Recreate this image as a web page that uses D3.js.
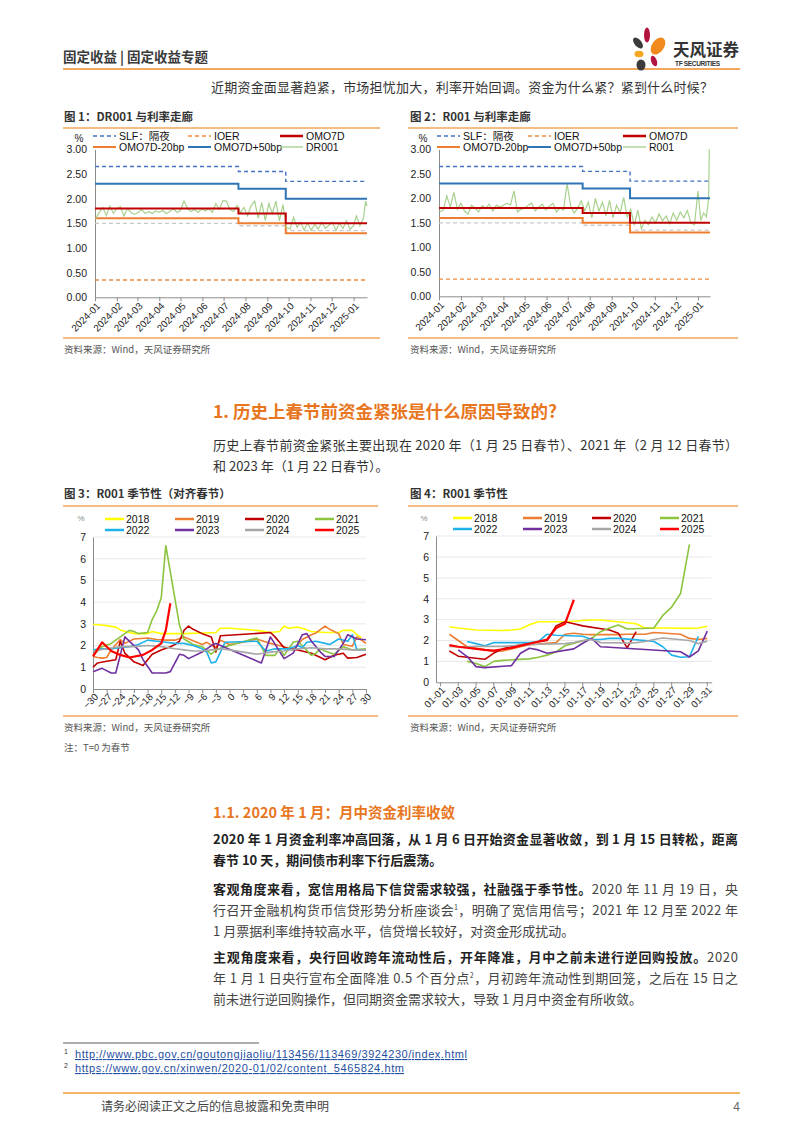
<!DOCTYPE html>
<html><head><meta charset="utf-8">
<script src="https://cdn.jsdelivr.net/npm/d3@7/dist/d3.min.js"></script>
<style>html,body{margin:0;padding:0;background:#fff;}svg{display:block;}</style>
</head><body>
<svg id="page" width="802" height="1133"></svg>
<script>
// ---------------- DATA ----------------
const monthTicks = ["2024-01","2024-02","2024-03","2024-04","2024-05","2024-06","2024-07","2024-08","2024-09","2024-10","2024-11","2024-12","2025-01"];
const corridorTicks = [0, 0.5, 1, 1.5, 2, 2.5, 3];
const corridorDates = ["2024-01-01","2024-07-22","2024-09-27"];
const slfValues = [2.65, 2.55, 2.35];
const ioerValues = [0.35, 0.35, 0.35];
const omo7dValues = [1.8, 1.7, 1.5];
const omoMinus20Values = [1.6, 1.5, 1.3];
const omoPlus50Values = [2.3, 2.2, 2.0];
const greyDashValues = [1.5, 1.45, 1.35];

const dates2024 = ("2024-01-02 2024-01-07 2024-01-12 2024-01-17 2024-01-22 2024-01-27 " +
 "2024-02-01 2024-02-06 2024-02-11 2024-02-16 2024-02-21 2024-02-26 " +
 "2024-03-02 2024-03-07 2024-03-12 2024-03-17 2024-03-22 2024-03-27 " +
 "2024-04-01 2024-04-06 2024-04-11 2024-04-16 2024-04-21 2024-04-26 " +
 "2024-05-01 2024-05-06 2024-05-11 2024-05-16 2024-05-21 2024-05-26 2024-05-31 " +
 "2024-06-05 2024-06-10 2024-06-15 2024-06-20 2024-06-25 2024-06-30 " +
 "2024-07-05 2024-07-10 2024-07-15 2024-07-20 2024-07-25 2024-07-30 " +
 "2024-08-04 2024-08-09 2024-08-14 2024-08-19 2024-08-24 2024-08-29 " +
 "2024-09-03 2024-09-08 2024-09-13 2024-09-18 2024-09-23 2024-09-28 " +
 "2024-10-03 2024-10-08 2024-10-13 2024-10-18 2024-10-23 2024-10-28 " +
 "2024-11-02 2024-11-07 2024-11-12 2024-11-17 2024-11-22 2024-11-27 " +
 "2024-12-02 2024-12-07 2024-12-12 2024-12-17 2024-12-22 2024-12-27").split(" ");
const dr001Dates = dates2024.concat(["2025-01-01","2025-01-05","2025-01-10","2025-01-15","2025-01-18","2025-01-20"]);
const dr001Values = [1.60,1.72,1.82,1.66,1.85,1.70, 1.80,1.84,1.65,1.80,1.72,1.68, 1.72,1.78,1.70,1.74,1.70,1.75,
 1.72,1.76,1.70,1.74,1.80,1.72, 1.76,1.95,1.80,1.74,1.78,1.72,1.80, 1.75,1.80,1.72,1.90,1.78,1.96,
 1.95,1.78,1.74,1.86,1.72,1.82, 1.65,1.86,1.95,1.60,1.92,1.56, 1.90,1.70,1.95,1.55,1.88,1.42,
 1.38,1.62,1.42,1.52,1.36,1.50, 1.36,1.48,1.38,1.52,1.40,1.46, 1.52,1.36,1.50,1.40,1.55,1.38,
 1.45,1.65,1.45,1.60,1.95,1.85];
const r001Dates = dates2024.concat(["2025-01-01","2025-01-05","2025-01-09","2025-01-13","2025-01-16","2025-01-17"]);
const r001Values = [1.72,1.76,2.05,1.82,2.12,1.78, 1.90,1.74,1.68,1.86,1.80,1.72, 1.85,1.80,1.88,1.74,1.86,1.82,
 1.86,1.90,1.86,2.15,1.72,1.78, 1.80,1.86,1.90,1.74,1.82,1.88,1.76, 1.84,1.90,1.72,1.80,1.76,2.30,
 1.85,1.70,1.80,1.95,1.74,1.92, 1.60,2.00,1.74,1.92,1.64,1.96, 1.60,1.86,1.70,2.02,1.62,1.78,
 1.45,1.76,1.38,1.55,1.46,1.62, 1.50,1.68,1.54,1.64,1.48,1.70, 1.55,1.72,1.60,1.75,1.50,1.46,
 2.15,1.55,1.70,1.62,2.00,3.00];

const yearNames = ["2018","2019","2020","2021","2022","2023","2024","2025"];
const yearColors = ["#FFFF00","#ED7D31","#C00000","#8CC43E","#1FB1EA","#7030A0","#A6A6A6","#FF0000"];
const seasonYTicks = [0,1,2,3,4,5,6,7];
const alignTicks = [-30,-27,-24,-21,-18,-15,-12,-9,-6,-3,0,3,6,9,12,15,18,21,24,27,30];
const janTickLabels = ["01-01","01-03","01-05","01-07","01-09","01-11","01-13","01-15","01-17","01-19","01-21","01-23","01-25","01-27","01-29","01-31"];
const janDays = d3.range(1, 32);

// Fig 3: aligned to Spring Festival (T=0)
const alignT2018 = [-30,-28,-27,-25,-24,-22,-21,-18,-17,-15,-13,-10,-6,-3,-2,0,3,6,9,11,12,13,15,16,18,21,24,25,27,28,29];
const alignV2018 = [2.97,2.95,2.92,2.85,2.72,2.6,2.55,2.55,2.65,2.55,2.55,2.55,2.58,2.6,2.8,2.8,2.75,2.7,2.6,2.65,2.9,2.8,2.85,2.8,2.65,2.6,2.6,2.7,2.7,2.5,2.35];
const alignT2019 = [-30,-29,-28,-27,-26,-24,-23,-21,-18,-16,-14,-12,-10,-8,-6,-5,-3,-2,0,3,6,9,12,14,16,18,19,21,22,24,25,27,28,30];
const alignV2019 = [1.5,1.45,1.42,1.45,1.8,2.28,2.1,2.3,2.35,2.28,2.25,2.25,2.4,2.22,2.05,2.15,1.9,2.25,2.05,2.15,2.3,2.1,1.95,1.8,2.28,2.5,2.58,2.9,2.75,2.55,2.05,1.97,2.4,2.1];
const alignT2020 = [-30,-29,-27,-25,-24,-23,-21,-19,-17,-15,-13,-12,-11,-10,-9,-8,-6,-4,-3,-2,9,10,12,15,18,20,21,23,25,26,28,30];
const alignV2020 = [1.0,1.2,1.28,1.35,2.2,1.65,1.25,1.08,1.6,1.8,1.95,2.05,2.2,2.7,2.9,2.75,2.55,2.4,1.7,2.45,2.6,2.4,1.9,1.8,1.65,1.45,1.35,1.55,1.65,1.42,1.45,1.6];
const alignT2021 = [-30,-28,-26,-24,-22,-21,-20,-18,-17,-16,-15,-14,-11,-10,-8,-6,-4,-3,-1,6,8,10,11,12,14,15,16,18,19,20,21,23,25,27,30];
const alignV2021 = [1.55,1.95,2.1,2.4,2.7,2.65,2.55,2.6,3.2,3.6,4.2,6.6,2.95,2.3,2.05,1.95,1.6,1.8,1.95,2.35,1.55,1.55,1.85,1.55,2.15,2.2,2.0,1.55,1.65,1.85,1.75,1.6,1.95,1.8,1.85];
const alignT2022 = [-30,-28,-26,-24,-22,-20,-18,-16,-14,-12,-10,-8,-6,-5,-4,-3,-1,6,8,10,13,15,16,17,19,21,22,24,26,27,28,30];
const alignV2022 = [1.8,1.85,1.85,1.9,1.95,2.05,2.25,2.2,2.15,2.1,2.1,2.0,1.85,1.7,1.2,1.25,2.15,2.2,1.75,1.85,1.85,2.0,1.9,2.15,2.2,2.1,2.05,2.3,2.2,2.5,1.8,1.8];
const alignT2023 = [-30,-28,-26,-25,-23,-20,-19,-17,-14,-13,-11,-10,-9,-6,-4,-3,7,9,12,14,16,17,18,20,21,23,25,26,28,30];
const alignV2023 = [0.8,0.95,0.74,0.74,2.4,1.8,1.35,0.74,0.74,0.8,1.6,1.55,1.4,1.7,2.0,2.1,1.2,2.4,1.4,1.65,2.5,2.55,2.2,1.7,1.5,1.5,2.1,2.5,2.3,2.27];
const alignT2024 = [-30,-27,-24,-21,-18,-15,-12,-10,-8,-6,-4,-2,0,6,9,12,15,18,21,24,27,30];
const alignV2024 = [1.75,1.85,1.95,1.95,2.0,1.95,1.85,1.8,1.75,1.75,1.8,1.85,1.8,1.6,1.7,1.75,1.85,1.9,1.85,1.85,1.8,1.8];
const alignT2025 = [-30,-28,-26,-24,-22,-19,-17,-15,-14,-13];
const alignV2025 = [1.5,2.15,1.75,1.57,1.45,1.57,1.8,2.1,2.7,3.95];

// Fig 4: January calendar days
const janD2018 = [2,3,4,5,8,9,10,11,12,15,16,17,18,19,22,23,24,25,26,29,30,31];
const janV2018 = [2.66,2.6,2.55,2.5,2.48,2.5,2.55,2.75,2.9,2.9,2.92,2.96,2.98,2.98,2.85,2.8,2.6,2.6,2.6,2.58,2.6,2.68];
const janD2019 = [2,3,4,7,8,9,10,11,14,15,16,17,18,21,22,23,24,25,28,29,30,31];
const janV2019 = [2.3,2.0,1.7,1.48,1.5,1.6,1.7,1.8,1.9,2.3,2.35,2.3,2.28,2.28,2.3,2.3,2.3,2.38,2.3,2.1,2.05,2.1];
const janD2020 = [2,3,6,7,8,9,10,13,14,15,16,17,20,21,22,23];
const janV2020 = [1.5,1.25,1.1,1.4,1.6,1.7,1.8,2.0,2.7,2.9,2.8,2.7,2.5,2.35,1.65,2.42];
const janD2021 = [4,5,6,7,8,11,12,13,14,15,18,19,20,21,22,25,26,27,28,29];
const janV2021 = [1.0,0.9,0.75,1.0,1.05,1.12,1.2,1.3,1.45,1.75,2.1,2.42,2.6,2.74,2.55,2.6,3.2,3.6,4.25,6.6];
const janD2022 = [4,5,6,7,10,11,12,13,14,17,18,19,20,21,24,25,26,27,28,29,30];
const janV2022 = [1.95,1.85,1.75,1.9,1.9,1.9,1.95,2.3,2.25,2.2,2.05,2.05,2.1,2.1,2.0,1.95,1.7,1.3,1.2,1.22,2.2];
const janD2023 = [3,4,5,6,9,10,11,12,13,16,17,18,19,20,28,29,30,31];
const janV2023 = [1.55,1.23,0.75,0.7,0.8,1.39,1.63,1.55,1.39,1.6,1.87,2.1,1.7,1.68,1.46,1.21,1.5,2.45];
const janD2024 = [2,3,4,5,8,9,10,11,12,15,16,17,18,19,22,23,24,25,26,29,30,31];
const janV2024 = [1.72,1.7,1.7,1.72,1.72,1.75,1.78,1.8,1.82,1.85,1.9,2.0,2.05,1.9,1.88,1.9,1.95,2.05,2.12,2.0,1.85,1.97];
const janD2025 = [2,3,6,7,8,9,10,13,14,15,16];
const janV2025 = [1.78,1.7,1.55,1.52,1.58,1.65,1.75,2.05,2.6,2.8,3.95];

const alignT = [alignT2018,alignT2019,alignT2020,alignT2021,alignT2022,alignT2023,alignT2024,alignT2025];
const alignV = [alignV2018,alignV2019,alignV2020,alignV2021,alignV2022,alignV2023,alignV2024,alignV2025];
const janD = [janD2018,janD2019,janD2020,janD2021,janD2022,janD2023,janD2024,janD2025];
const janV = [janV2018,janV2019,janV2020,janV2021,janV2022,janV2023,janV2024,janV2025];

// ---------------- DRAWING ----------------
const CJK = "'Noto Sans CJK SC','Noto Sans',sans-serif";
const LAT = "'Liberation Sans',Arial,'Noto Sans CJK SC',sans-serif";
const ORANGE = "#E8761E";
const RULE = "#F2A75C";
const AXIS = "#8C8C8C";
const parseDate = d3.timeParse("%Y-%m-%d");
const svg = d3.select("#page");
svg.append("rect").attr("width",802).attr("height",1133).attr("fill","#fff");

function txt(p, x, y, s, o) {
  o = o || {};
  const t = p.append("text").attr("x",x).attr("y",y).text(s)
    .attr("font-family", o.ff || CJK).attr("font-size", o.fs || 13).attr("fill", o.fill || "#333");
  if (o.fw) t.attr("font-weight", o.fw);
  if (o.anchor) t.attr("text-anchor", o.anchor);
  if (o.len) t.attr("textLength", o.len).attr("lengthAdjust","spacing");
  if (o.deco) t.attr("text-decoration", o.deco);
  return t;
}
function hline(p, x1, x2, y, c, w) {
  p.append("line").attr("x1",x1).attr("x2",x2).attr("y1",y).attr("y2",y).attr("stroke",c).attr("stroke-width",w);
}
function styleAxis(g, fs) {
  g.select(".domain").attr("stroke", AXIS).attr("stroke-width",1);
  g.selectAll(".tick line").attr("stroke", AXIS);
  g.selectAll("text").attr("font-family", LAT).attr("font-size", fs).attr("fill","#222");
}
function rotateLabels(g, dx, dy) {
  g.selectAll(".tick text").attr("x",0).attr("y",0).attr("dy","0.35em")
    .attr("text-anchor","end").attr("transform",`translate(${dx},${dy}) rotate(-45)`);
}

// Header
txt(svg, 63, 62, "固定收益 | 固定收益专题", {fs:13.5, fw:"bold", fill:"#3a3a3a"});
hline(svg, 63, 740, 69, "#EE8B2B", 1.6);
// Logo
const logo = svg.append("g");
logo.append("ellipse").attr("cx",647).attr("cy",35).attr("rx",3).attr("ry",7.5).attr("fill","#B3133F");
logo.append("ellipse").attr("cx",638).attr("cy",43).attr("rx",3.5).attr("ry",6.5).attr("fill","#3B3B3B").attr("transform","rotate(-40 638 43)");
logo.append("ellipse").attr("cx",658).attr("cy",46).attr("rx",6).attr("ry",9.5).attr("fill","#F08A1C").attr("transform","rotate(35 658 46)");
logo.append("ellipse").attr("cx",639).attr("cy",54).attr("rx",4.5).attr("ry",3.2).attr("fill","#F5A623");
logo.append("ellipse").attr("cx",641).attr("cy",65).attr("rx",4.5).attr("ry",5.5).attr("fill","#3B3B3B");
logo.append("ellipse").attr("cx",654).attr("cy",61).attr("rx",2.8).attr("ry",5.5).attr("fill","#B3133F").attr("transform","rotate(-20 654 61)");
txt(svg, 673, 56, "天风证券", {fs:16.5, fw:"bold", fill:"#333"});
txt(svg, 675, 66, "TF SECURITIES", {fs:6.5, fw:"bold", fill:"#333", ff:LAT, len:45});

txt(svg, 211, 92, "近期资金面显著趋紧，市场担忧加大，利率开始回调。资金为什么紧？紧到什么时候？", {fs:13, fill:"#333", len:502});

// ---------- Corridor charts ----------
function corridorChart(c) {
  const g = svg.append("g");
  txt(g, c.titleX, 121, c.title, {fs:11.5, fw:"bold", fill:"#333"});
  hline(g, c.ruleX1, c.ruleX2, 128, RULE, 1.5);
  const x = d3.scaleTime().domain([parseDate("2024-01-01"), parseDate(c.end)]).range([c.x0, c.x1]);
  const y = d3.scaleLinear().domain([0, 3]).range([c.yb, c.yt]);
  const ya = g.append("g").attr("transform",`translate(${c.x0},0)`)
    .call(d3.axisLeft(y).tickValues(corridorTicks).tickFormat(d3.format(".2f")).tickSize(0).tickSizeOuter(0).tickPadding(8));
  styleAxis(ya, 10.5);
  const xa = g.append("g").attr("transform",`translate(0,${c.yb})`)
    .call(d3.axisBottom(x).tickValues(monthTicks.map(m => parseDate(m + "-01"))).tickFormat((d,i) => monthTicks[i]).tickSize(4).tickSizeOuter(0));
  styleAxis(xa, 9.8);
  rotateLabels(xa, 3, 7);
  txt(g, c.pctX, 142, "%", {fs:10, ff:LAT, fill:"#222", anchor:"middle"});

  const stepData = vals => corridorDates.map((d,i) => [parseDate(d), vals[i]]).concat([[parseDate(c.end), vals[vals.length-1]]]);
  const step = d3.line().x(d => x(d[0])).y(d => y(d[1])).curve(d3.curveStepAfter);
  const line = d3.line().x(d => x(d[0])).y(d => y(d[1]));
  const draw = (data, gen, col, w, dash) => {
    const p = g.append("path").attr("d", gen(data)).attr("fill","none").attr("stroke",col).attr("stroke-width",w);
    if (dash) p.attr("stroke-dasharray", dash);
  };
  draw(stepData(greyDashValues), step, "#C9C9C9", 1.3, "4,3");
  draw(stepData(ioerValues), step, "#F08A3C", 1.4, "4,3");
  draw(stepData(omoMinus20Values), step, "#ED7D31", 2);
  draw(c.dates.map((d,i) => [parseDate(d), c.values[i]]), line, "#A9D18E", 1.2);
  draw(stepData(omo7dValues), step, "#C00000", 2);
  draw(stepData(omoPlus50Values), step, "#2E75B6", 2);
  draw(stepData(slfValues), step, "#4472C4", 1.4, "4,3");

  const leg = [
    ["SLF：隔夜", "#4472C4", 1.6, "4,3"], ["IOER", "#F08A3C", 1.6, "4,3"], ["OMO7D", "#C00000", 2.5, null],
    ["OMO7D-20bp", "#ED7D31", 2, null], ["OMO7D+50bp", "#2E75B6", 2, null], [c.name, "#A9D18E", 1.4, null]];
  leg.forEach((L, i) => {
    const lx = c.legX[i % 3], ly = i < 3 ? 136 : 147;
    const ln = g.append("line").attr("x1",lx).attr("x2",lx + 23).attr("y1",ly).attr("y2",ly).attr("stroke",L[1]).attr("stroke-width",L[2]);
    if (L[3]) ln.attr("stroke-dasharray", L[3]);
    txt(g, lx + 26, ly + 3.8, L[0], {fs:10.5, ff:LAT, fill:"#111"});
  });
  hline(g, c.ruleX1, c.ruleX2, 338, RULE, 1.5);
  txt(g, c.titleX, 353, "资料来源：Wind，天风证券研究所", {fs:9.5, fill:"#555"});
}
corridorChart({title:"图 1：DR001 与利率走廊", titleX:64, ruleX1:63, ruleX2:380, x0:95, x1:367, yt:149.3, yb:297.3,
  end:"2025-01-20", pctX:79, legX:[93,188,280], name:"DR001", dates:dr001Dates, values:dr001Values});
corridorChart({title:"图 2：R001 与利率走廊", titleX:410, ruleX1:408, ruleX2:738, x0:439, x1:710, yt:149.3, yb:296.3,
  end:"2025-01-18", pctX:423, legX:[437,528,623], name:"R001", dates:r001Dates, values:r001Values});

// ---------- Section heading ----------
txt(svg, 213, 418, "1. 历史上春节前资金紧张是什么原因导致的?", {fs:17.5, fw:"bold", fill:ORANGE});

function richLine(y, segs, justify) {
  const t = svg.append("text").attr("x",213).attr("y",y).attr("font-family",CJK).attr("font-size",13);
  segs.forEach(s => {
    const sp = t.append("tspan").text(s.t).attr("fill", s.c || "#444");
    if (s.b) sp.attr("font-weight","bold");
    if (s.sup) sp.attr("font-size",7).attr("baseline-shift","super");
  });
  if (justify) t.attr("textLength",525).attr("lengthAdjust","spacing");
}
richLine(450, [{t:"历史上春节前资金紧张主要出现在 2020 年（1 月 25 日春节）、2021 年（2 月 12 日春节）", c:"#333"}], true);
richLine(471, [{t:"和 2023 年（1 月 22 日春节）。", c:"#333"}], false);

// ---------- Season charts ----------
function seasonChart(c) {
  const g = svg.append("g");
  txt(g, c.titleX, 498, c.title, {fs:11.5, fw:"bold", fill:"#333"});
  hline(g, c.ruleX1, c.ruleX2, 506, RULE, 1.5);
  const y = d3.scaleLinear().domain([0, 7]).range([c.yb, c.yt]);
  seasonYTicks.slice(1).forEach(v => hline(g, c.x0, c.x1, y(v), "#E3E3E3", 0.8));
  const ya = g.append("g").attr("transform",`translate(${c.x0},0)`)
    .call(d3.axisLeft(y).tickValues(seasonYTicks).tickFormat(d3.format("d")).tickSize(0).tickSizeOuter(0).tickPadding(7));
  styleAxis(ya, 10.5);
  const xa = g.append("g").attr("transform",`translate(0,${c.yb})`).call(c.xAxis);
  styleAxis(xa, 9.8);
  rotateLabels(xa, 3, 6);
  txt(g, c.pctX, c.pctY, "%", {fs:8, ff:LAT, fill:"#888", anchor:"middle"});
  const line = d3.line().x(d => d[0]).y(d => y(d[1]));
  yearNames.forEach((nm, k) => {
    const pts = c.xs[k].map((xv, i) => [c.xpos(xv), c.vs[k][i]]);
    g.append("path").attr("d", line(pts)).attr("fill","none").attr("stroke", yearColors[k])
      .attr("stroke-width", k === 7 ? 2.2 : 1.6).attr("stroke-linejoin","round");
  });
  yearNames.forEach((nm, k) => {
    const lx = c.legX[k % 4], ly = k < 4 ? c.legY[0] : c.legY[1];
    hline(g, lx, lx + 19, ly, yearColors[k], 2.5);
    txt(g, lx + 21, ly + 4, nm, {fs:10.5, ff:LAT, fill:"#111"});
  });
  hline(g, c.ruleX1, c.ruleX2, 716, RULE, 1.5);
  txt(g, c.titleX, 731, "资料来源：Wind，天风证券研究所", {fs:9.5, fill:"#555"});
}
const xT = d3.scaleLinear().domain([-30, 30]).range([93, 366]);
seasonChart({title:"图 3：R001 季节性（对齐春节）", titleX:64, ruleX1:63, ruleX2:378, x0:93, x1:366, yt:537, yb:689,
  xAxis: d3.axisBottom(xT).tickValues(alignTicks).tickFormat(d3.format("d")).tickSize(4).tickSizeOuter(0),
  xpos: v => xT(v), xs: alignT, vs: alignV, pctX:81, pctY:521, legX:[105,175,245,315], legY:[519,530]});
const xD = d3.scaleBand().domain(janDays).range([436, 711.7]).padding(0);
const xDaxis = d3.axisBottom(xD).tickValues(janDays.filter(d => d % 2 === 1))
  .tickFormat(d => janTickLabels[(d - 1) / 2]).tickSize(4).tickSizeOuter(0);
seasonChart({title:"图 4：R001 季节性", titleX:410, ruleX1:408, ruleX2:738, x0:436, x1:711.7, yt:536, yb:682.3,
  xAxis: xDaxis, xpos: d => xD(d) + xD.bandwidth() / 2, xs: janD, vs: janV, pctX:424, pctY:521,
  legX:[453,523,592,660], legY:[518,529]});
txt(svg, 64, 751, "注：T=0 为春节", {fs:9.5, fill:"#555"});

// ---------- Section 1.1 ----------
txt(svg, 213, 818, "1.1. 2020 年 1 月：月中资金利率收敛", {fs:14.5, fw:"bold", fill:ORANGE});
richLine(844, [{t:"2020 年 1 月资金利率冲高回落，从 1 月 6 日开始资金显著收敛，到 1 月 15 日转松，距离", b:true, c:"#222"}], true);
richLine(865, [{t:"春节 10 天，期间债市利率下行后震荡。", b:true, c:"#222"}], false);
richLine(894, [{t:"客观角度来看，宽信用格局下信贷需求较强，社融强于季节性。", b:true, c:"#222"}, {t:"2020 年 11 月 19 日，央"}], true);
richLine(915, [{t:"行召开金融机构货币信贷形势分析座谈会"}, {t:"1", sup:true}, {t:"，明确了宽信用信号；2021 年 12 月至 2022 年"}], true);
richLine(936, [{t:"1 月票据利率维持较高水平，信贷增长较好，对资金形成扰动。"}], false);
richLine(962, [{t:"主观角度来看，央行回收跨年流动性后，开年降准，月中之前未进行逆回购投放。", b:true, c:"#222"}, {t:"2020"}], true);
richLine(983, [{t:"年 1 月 1 日央行宣布全面降准 0.5 个百分点"}, {t:"2", sup:true}, {t:"，月初跨年流动性到期回笼，之后在 15 日之"}], true);
richLine(1004, [{t:"前未进行逆回购操作，但同期资金需求较大，导致 1 月月中资金有所收敛。"}], false);

// ---------- Footnotes & footer ----------
hline(svg, 63, 259, 1043, "#333", 0.8);
txt(svg, 64, 1054, "1", {fs:7, ff:LAT, fill:"#333"});
txt(svg, 75, 1058, "http://www.pbc.gov.cn/goutongjiaoliu/113456/113469/3924230/index.html", {fs:11, ff:LAT, fill:"#1F4FA0", len:392, deco:"underline"});
txt(svg, 64, 1068, "2", {fs:7, ff:LAT, fill:"#333"});
txt(svg, 75, 1072, "https://www.gov.cn/xinwen/2020-01/02/content_5465824.htm", {fs:11, ff:LAT, fill:"#1F4FA0", len:329, deco:"underline"});
hline(svg, 63, 740, 1093, "#F0A030", 1.6);
txt(svg, 101, 1111, "请务必阅读正文之后的信息披露和免责申明", {fs:12, fill:"#444"});
txt(svg, 740, 1111, "4", {fs:12, ff:LAT, fill:"#666", anchor:"end"});
</script>
</body></html>
